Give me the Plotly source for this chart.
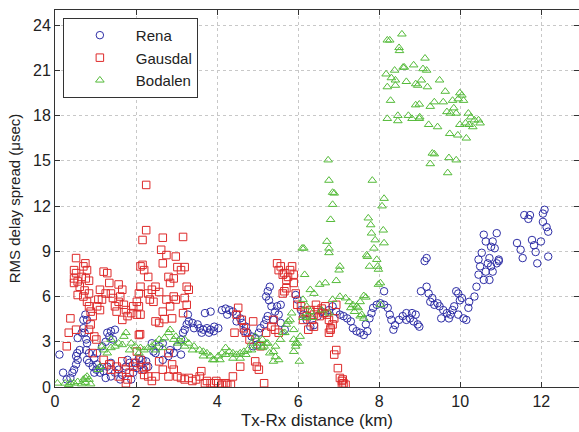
import plotly.graph_objects as go

# ---------------- data ----------------
rena_x = [0.11,0.2,0.29,0.38,0.43,0.47,0.52,0.56,0.52,0.55,0.61,0.56,0.66,0.7,0.7,0.75,0.79,0.73,0.77,0.79,0.77,0.84,0.79,0.84,
          0.93,1.02,1.11,1.2,1.29,1.38,1.48,1.57,1.66,1.75,1.84,1.93,2.02,2.11,2.2,2.3,2.25,2.16,2.07,1.98,1.79,1.88,1.61,1.38,1.25,1.11,0.97,1.04,0.97,1.04,
          1.29,1.38,1.34,1.25,1.16,1.43,1.48,
          2.48,2.57,2.66,2.8,2.84,2.93,3.02,3.11,2.66,2.39,2.43,
          3.11,3.16,3.2,3.25,3.28,3.3,
          3.39,3.43,3.52,3.57,3.66,3.75,3.84,3.93,4.03,3.62,3.8,3.92,3.7,3.84,
          4.12,4.21,4.3,4.39,4.25,4.48,4.57,4.48,4.62,4.71,4.66,4.75,4.85,4.94,4.98,4.89,5.03,5.07,5.16,5.21,5.25,5.21,5.25,5.3,5.28,5.34,5.43,5.52,5.48,5.57,5.67,5.57,5.39,
          5.94,5.98,6.07,6.12,6.21,6.3,6.39,6.48,6.58,6.67,6.76,6.85,6.94,7.03,7.12,7.21,7.3,7.35,7.44,7.53,7.62,7.71,7.67,7.76,7.81,7.85,7.94,8.03,8.12,8.12,8.21,8.26,8.3,8.35,8.39,8.49,8.58,8.67,8.76,8.85,8.95,8.99,8.9,8.81,8.67,
          9.03,9.12,9.17,
          9.17,9.22,9.26,9.31,9.36,9.44,9.49,9.58,9.53,9.67,9.72,9.76,9.81,9.85,9.9,9.95,9.99,10.04,9.95,10.08,10.15,10.2,10.22,10.35,
          10.4,10.45,10.49,10.45,10.53,10.58,10.63,10.68,10.72,10.58,10.63,10.76,10.8,10.85,10.9,10.95,10.76,10.72,10.8,10.9,10.95,
          11.4,11.49,11.54,11.58,11.68,11.72,11.77,11.82,11.86,11.9,11.99,12.04,12.04,12.13,12.17,12.17,12.08]
rena_y = [2.15,0.95,0.5,0.6,0.95,1.15,1.5,1.8,2.05,2.25,2.45,3.25,3.6,3.9,4.45,4.8,4.45,3.6,3.15,2.9,2.45,2.25,1.8,1.6,
          1.35,1.15,1.25,1.05,1.35,1.6,0.95,1.15,0.8,1.35,1.6,0.95,1.25,1.45,1.15,1.35,1.7,1.8,1.9,1.6,1.8,0.5,0.5,0.7,0.6,0.95,0.95,1.5,1.9,2.25,
          3.6,3.7,3.35,3.0,2.7,3.15,3.8,
          2.25,2.7,2.9,2.05,2.45,2.25,2.7,2.15,1.8,2.9,2.35,
          3.15,3.6,3.8,4.15,4.8,4.35,
          4.25,3.9,4.15,3.9,3.8,3.9,3.8,4.0,3.9,3.6,3.6,3.7,4.9,5.0,
          5.1,5.2,5.1,5.0,4.8,4.8,4.55,4.35,4.25,4.0,3.7,3.6,3.35,3.25,2.8,2.7,3.6,3.9,4.15,4.45,4.7,6.0,6.35,6.65,5.75,5.35,5.0,4.8,5.35,5.45,3.8,4.25,4.45,
          6.1,5.8,5.1,4.8,4.45,4.0,4.1,4.7,5.0,4.9,5.1,5.35,5.0,4.8,4.7,4.55,4.35,3.9,3.7,3.6,3.45,3.7,4.15,4.55,4.9,5.25,5.45,5.55,5.45,6.35,5.25,4.8,4.45,3.8,4.1,4.45,4.7,4.45,4.55,4.35,4.15,4.0,4.8,4.9,4.9,
          6.35,8.35,8.55,
          6.65,6.2,5.65,5.9,5.45,5.55,5.35,5.1,4.55,4.9,4.55,4.8,5.1,5.35,6.35,6.2,5.75,5.9,4.8,4.55,4.45,5.25,5.65,6.0,
          6.65,7.45,8.0,8.45,8.9,7.1,7.65,8.2,8.55,10.1,9.65,9.3,9.65,9.2,10.2,8.35,8.0,7.1,7.65,8.2,8.45,
          9.55,9.1,8.55,11.4,11.15,11.4,9.75,9.4,8.95,8.2,9.65,11.5,10.95,10.6,10.3,8.65,11.75]

gausdal_x = [0.52,0.47,0.52,0.47,0.47,0.56,0.61,0.66,0.7,0.75,0.79,0.76,0.84,0.73,0.84,0.56,0.7,0.79,0.84,0.88,0.93,0.38,0.34,0.29,0.52,0.84,0.88,0.97,1.02,0.93,
             1.07,1.11,1.2,1.29,1.25,1.34,1.38,1.43,1.48,1.52,1.57,1.61,1.66,1.57,1.7,1.75,1.66,1.79,1.88,1.93,1.11,1.04,1.16,
             2.02,2.07,2.11,2.11,2.16,2.2,2.16,2.25,2.25,2.3,2.3,2.34,2.39,2.48,2.07,2.02,2.11,
             2.66,2.62,2.75,2.66,2.8,2.84,2.93,2.98,3.02,3.11,3.16,3.2,3.25,3.3,3.2,3.25,3.16,2.93,2.84,2.75,2.66,2.57,2.48,2.7,2.57,2.43,2.89,2.98,
             1.2,1.34,1.38,1.52,1.66,1.75,1.84,1.79,1.75,1.93,1.98,2.11,2.16,2.2,2.02,2.07,2.1,2.25,2.3,2.39,1.57,
             2.57,2.66,2.8,2.89,2.93,3.02,3.11,3.2,3.3,3.39,3.48,3.57,3.61,3.7,3.75,3.84,3.93,4.03,4.12,4.25,4.34,4.39,4.43,4.57,2.8,2.48,4.21,3.98,
             4.52,4.48,4.61,4.66,4.71,4.8,4.89,4.94,4.98,5.03,5.16,5.07,5.21,5.34,5.39,5.43,5.52,
             5.48,5.52,5.57,5.62,5.66,5.71,5.75,5.8,5.85,5.89,5.89,5.71,5.66,5.62,
             5.94,5.98,6.07,6.16,6.21,6.3,6.34,6.39,6.44,6.48,6.53,6.58,6.62,6.67,6.71,6.76,6.8,6.76,6.8,6.85,6.89,6.94,6.25,6.39,6.12,
             6.94,6.89,6.98,7.03,7.08,7.12,7.1,7.17,7.08]
gausdal_y = [8.55,7.75,7.55,7.2,6.9,7.0,6.65,7.3,8.0,8.2,7.75,7.2,7.05,6.4,6.2,6.1,6.0,5.65,5.35,5.0,4.7,4.55,3.6,2.7,3.8,3.8,4.15,3.35,3.15,2.25,
             5.8,6.45,7.65,7.55,6.2,6.9,6.2,5.9,5.35,5.0,5.65,6.0,6.45,6.8,5.45,5.1,4.45,4.7,4.9,5.35,5.1,5.35,5.8,
             5.65,6.2,6.65,8.0,8.1,7.75,9.75,10.4,13.4,7.3,6.2,5.8,6.45,6.65,5.35,4.8,4.8,
             9.9,9.1,8.75,8.2,7.3,6.9,7.2,8.65,7.95,7.75,9.95,7.95,6.65,6.45,5.9,5.45,4.9,6.0,5.35,5.8,5.0,4.25,4.35,4.5,6.3,5.65,4.55,5.8,
             1.8,1.5,1.15,1.35,1.7,1.15,0.95,0.5,0.25,1.35,1.6,1.8,1.15,0.8,2.35,3.45,3.5,1.35,0.7,0.4,0.7,
             1.7,1.15,0.7,1.5,1.15,0.7,0.6,0.5,0.6,0.4,0.5,0.7,1.05,0.25,0.4,0.25,0.25,0.25,0.15,0.15,0.15,0.7,3.6,1.35,2.25,0.7,0.25,0.4,
             5.25,4.8,4.45,3.9,3.6,3.15,4.35,1.7,1.35,1.15,0.25,2.7,3.6,4.0,4.45,3.8,3.6,
             8.2,7.75,8.0,7.45,7.55,7.1,7.3,7.75,8.0,7.45,6.9,6.55,6.35,6.2,
             6.2,5.45,5.35,5.0,4.7,5.1,4.45,4.8,5.45,5.1,4.7,5.2,4.9,5.35,4.8,4.45,3.9,3.6,3.8,4.15,4.55,5.45,3.8,4.0,4.45,
             2.45,2.15,1.25,0.6,0.4,0.25,0.5,0.15,0.15]

bodalen_x = [8.26,8.2,8.56,8.49,8.5,9.13,8.59,8.62,8.85,9.08,9.17,8.17,8.38,8.4,8.3,8.4,8.2,8.67,8.9,8.95,9.04,9.19,9.49,9.63,
             8.28,8.9,8.99,9.26,9.36,9.58,9.81,9.99,10.04,9.95,10.08,9.84,9.67,9.76,9.9,10.2,10.26,10.35,10.45,10.49,10.13,10.22,10.31,9.99,
             8.2,8.46,8.46,8.72,8.81,8.99,9.0,9.22,9.44,9.74,9.94,10.15,9.31,9.36,9.26,9.72,9.9,9.69,
             6.74,6.76,7.83,6.85,6.89,6.85,8.12,8.07,6.8,7.73,7.79,7.81,8.1,6.71,6.76,6.76,7.9,7.87,8.12,7.69,7.71,7.94,7.76,7.98,7.96,
             6.1,6.14,7.03,7.01,6.16,8.03,7.98,6.94,6.67,6.53,7.62,7.67,6.39,6.3,7.03,7.17,7.26,7.35,7.44,7.53,8.03,7.62,7.53,6.12,6.21,6.3,6.21,
             5.89,5.98,5.94,5.89,6.03,5.89,5.8,5.71,5.67,5.56,5.44,5.39,5.44,5.39,5.16,5.21,5.12,5.03,4.94,4.85,4.75,4.66,
             4.57,4.48,4.39,4.3,4.21,4.12,4.03,3.93,3.84,3.75,3.66,3.57,3.43,3.3,3.2,3.11,2.98,2.84,2.8,2.7,2.57,2.48,2.39,2.3,
             2.2,2.11,1.98,1.84,1.75,1.7,1.57,1.48,1.38,1.29,1.2,1.16,1.11,1.07,
             0.06,0.25,0.38,0.47,0.56,0.66,0.75,0.84,0.79,0.88,0.7,0.34,0.75,
             1.38,1.66,1.88,2.07,2.48,2.66,2.93,3.02,3.2,3.39,3.66,3.89,4.07,4.21,4.39,4.57,4.71,4.85,4.98,5.12,5.25,5.3,5.52,5.62,5.75,5.84,
             5.94,6.05,6.12,6.35,6.58,6.76,6.85,7.3,7.39,7.48,7.57]
bodalen_y = [23.0,23.0,23.4,22.5,22.3,21.8,21.2,21.2,21.35,21.1,21.0,20.75,21.0,20.35,20.5,20.0,19.9,20.25,20.1,20.0,20.35,19.9,20.35,19.6,
             19.0,18.7,18.75,18.6,18.9,18.9,19.0,19.5,19.35,19.1,19.0,18.5,18.25,18.15,18.15,18.15,17.9,17.7,17.7,17.5,17.5,17.4,17.25,17.4,
             17.8,18.0,17.65,18.0,17.8,17.8,17.9,17.4,17.25,16.8,16.7,16.5,15.5,15.45,14.8,15.2,15.05,14.2,
             15.05,13.7,13.7,12.9,12.85,12.1,12.5,12.0,11.1,11.2,10.75,10.2,10.4,9.65,9.2,8.9,9.75,9.2,9.55,8.75,8.65,8.45,8.0,7.8,8.0,
             9.2,9.2,8.0,7.75,7.45,6.9,6.8,7.05,6.9,6.8,6.05,5.95,6.2,6.45,6.0,5.9,5.65,5.45,5.35,5.65,5.45,4.55,4.7,5.8,5.35,5.0,4.7,
             3.15,2.9,2.7,2.35,1.7,3.8,4.45,4.15,3.6,3.15,2.7,2.35,2.0,1.7,2.7,2.9,3.15,2.9,3.35,2.9,2.45,2.35,
             2.25,2.15,1.9,2.35,2.6,2.25,2.05,1.8,2.05,2.25,2.35,2.45,2.7,2.9,3.15,3.0,3.35,3.8,3.6,3.25,3.15,2.9,2.7,2.6,
             2.45,2.6,2.7,2.45,3.6,3.35,2.9,2.7,2.6,2.25,2.45,2.7,1.35,1.15,
             0.25,0.25,0.3,0.25,0.35,0.2,0.3,0.5,0.7,0.2,0.5,0.15,0.6,
             3.15,2.8,2.9,2.25,2.45,2.6,3.15,2.9,2.7,2.45,2.05,1.8,1.8,2.15,2.25,1.9,2.15,2.45,2.7,2.6,2.9,2.25,1.8,3.6,4.35,4.9,
             2.9,3.35,4.6,4.6,5.1,4.9,5.8,5.25,5.0,5.25,4.8]

series_names = ["Rena", "Gausdal", "Bodalen"]
x_ticks = [0, 2, 4, 6, 8, 10, 12]
y_ticks = [0, 3, 6, 9, 12, 15, 18, 21, 24]

# ---------------- figure ----------------
font_family = "Liberation Sans, Arial, sans-serif"
fig = go.Figure()
styles = [("circle-open", "#2e2ea6", rena_x, rena_y),
          ("square-open", "#de2a2a", gausdal_x, gausdal_y),
          ("triangle-up-open", "#55bb3a", bodalen_x, bodalen_y)]
for name, (sym, col, xs, ys) in zip(series_names, styles):
    fig.add_trace(go.Scatter(
        x=xs, y=ys, mode="markers", name=name,
        marker=dict(symbol=sym, size=7.5, color=col, line=dict(width=1, color=col)),
    ))

axis_common = dict(
    showline=True, linecolor="#333333", linewidth=1, mirror="ticks",
    ticks="inside", ticklen=5, tickcolor="#333333",
    showgrid=True, gridcolor="#c8c8c8", griddash="dot", gridwidth=1,
    zeroline=False, tickfont=dict(family=font_family, size=16, color="#222222"),
)

fig.update_layout(
    width=579, height=432,
    margin=dict(l=55, r=0, t=10, b=45),
    paper_bgcolor="white", plot_bgcolor="white",
    showlegend=True,
    legend=dict(
        x=0.015, y=0.979, xanchor="left", yanchor="top",
        bgcolor="white", bordercolor="#333333", borderwidth=1,
        font=dict(family=font_family, size=15, color="#222222"),
        itemwidth=62, tracegroupgap=0,
    ),
    xaxis=dict(range=[0, 12.93], tickvals=x_ticks,
               title=dict(text="Tx-Rx distance (km)", standoff=4,
                          font=dict(family=font_family, size=17, color="#222222")),
               **axis_common),
    yaxis=dict(range=[0, 25], tickvals=y_ticks,
               title=dict(text="RMS delay spread (\u03bcsec)", standoff=8,
                          font=dict(family=font_family, size=15, color="#222222")),
               **axis_common),
)

fig.write_html("out.html")
